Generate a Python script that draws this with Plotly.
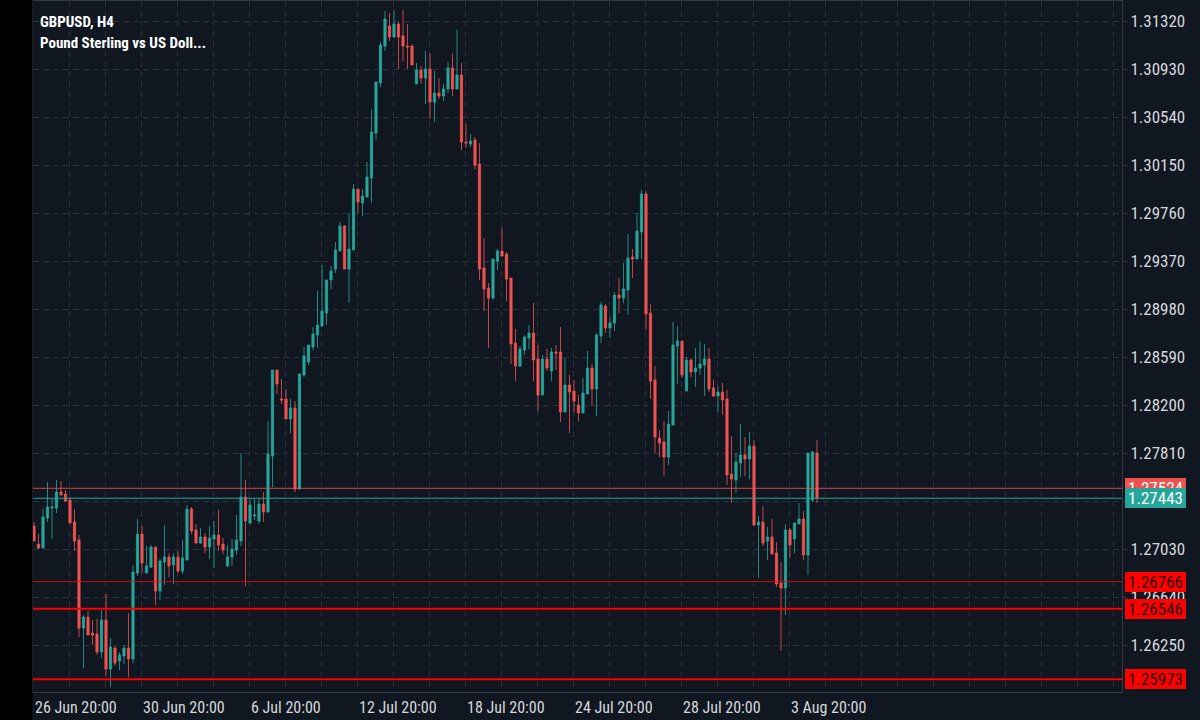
import plotly.graph_objects as go

# ---- data (GBPUSD H4) ----
OPEN = [1.27217,1.27071,1.27039,1.27282,1.27364,1.27364,1.27494,1.27477,1.27429,1.27250,
        1.27104,1.26388,1.26478,1.26348,1.26340,1.26194,1.26454,1.26055,1.26226,1.26120,
        1.26161,1.26226,1.26137,1.26836,1.27152,1.26836,1.26884,1.27047,1.26689,1.26925,
        1.26966,1.26901,1.26966,1.26852,1.26941,1.27356,1.27185,1.27079,1.27128,1.27047,
        1.27112,1.27144,1.27071,1.26893,1.26966,1.27022,1.27096,1.27453,1.27242,1.27299,
        1.27258,1.27396,1.27331,1.27786,1.28485,1.28250,1.28250,1.28087,1.28176,1.27518,
        1.28444,1.28550,1.28672,1.28769,1.28842,1.28948,1.29216,1.29305,1.29452,1.29655,
        1.29305,1.29460,1.29955,1.29842,1.29890,1.30045,1.30410,1.30817,1.31117,1.31280,
        1.31190,1.31296,1.31199,1.31117,1.31117,1.30809,1.30922,1.30857,1.30930,1.30662,
        1.30735,1.30711,1.30768,1.30939,1.30768,1.30882,1.30337,1.30321,1.30354,1.30159,
        1.29314,1.29151,1.29070,1.29370,1.29452,1.29427,1.29232,1.28704,1.28517,1.28647,
        1.28745,1.28785,1.28574,1.28282,1.28574,1.28477,1.28631,1.28631,1.28144,1.28363,
        1.28314,1.28200,1.28135,1.28290,1.28501,1.28331,1.28761,1.29005,1.28826,1.28867,
        1.29094,1.29070,1.29135,1.29403,1.29387,1.29606,1.29915,1.28948,1.28404,1.27932,
        1.27900,1.27778,1.28038,1.28680,1.28720,1.28314,1.28566,1.28469,1.28501,1.28525,
        1.28574,1.28339,1.28274,1.28306,1.28250,1.27640,1.27591,1.27729,1.27794,1.27762,
        1.27867,1.27225,1.27250,1.27096,1.27128,1.26998,1.26754,1.26714,1.27185,1.27112,
        1.27234,1.27274,1.26982,1.27429,1.27810]
HIGH = [1.27250,1.27152,1.27356,1.27575,1.27437,1.27591,1.27583,1.27510,1.27453,1.27356,
        1.27144,1.26494,1.26527,1.26454,1.26462,1.26535,1.26665,1.26307,1.26242,1.26194,
        1.26251,1.26511,1.26901,1.27274,1.27217,1.27055,1.27063,1.27047,1.26950,1.27225,
        1.26998,1.26998,1.27014,1.27104,1.27388,1.27372,1.27234,1.27201,1.27161,1.27217,
        1.27258,1.27347,1.27120,1.27063,1.27112,1.27307,1.27810,1.27591,1.27437,1.27437,
        1.27437,1.27494,1.28071,1.28485,1.28485,1.28412,1.28331,1.28250,1.28233,1.28461,
        1.28672,1.28688,1.28834,1.29127,1.29338,1.29216,1.29330,1.29525,1.29687,1.29663,
        1.29760,1.29996,1.29955,1.29955,1.30175,1.30605,1.30825,1.31150,1.31402,1.31385,
        1.31410,1.31312,1.31410,1.31296,1.31134,1.30979,1.30955,1.31077,1.31060,1.30914,
        1.30857,1.30809,1.30987,1.31060,1.31247,1.30979,1.30484,1.30402,1.30378,1.30329,
        1.29557,1.29192,1.29387,1.29468,1.29639,1.29443,1.29232,1.28818,1.28680,1.28769,
        1.28850,1.29029,1.28688,1.28607,1.28655,1.28664,1.28688,1.28834,1.28582,1.28444,
        1.28404,1.28282,1.28420,1.28639,1.28534,1.28785,1.29037,1.29021,1.28915,1.29119,
        1.29232,1.29354,1.29590,1.29468,1.29760,1.29947,1.29939,1.29021,1.28517,1.27997,
        1.28070,1.28152,1.28875,1.28842,1.28720,1.28590,1.28582,1.28664,1.28720,1.28696,
        1.28664,1.28404,1.28355,1.28379,1.28322,1.27949,1.27810,1.28046,1.27940,1.27981,
        1.27916,1.27299,1.27380,1.27209,1.27274,1.27087,1.26925,1.27234,1.27201,1.27242,
        1.27404,1.27339,1.27810,1.27827,1.27916]
LOW = [1.27096,1.27031,1.27039,1.27250,1.27112,1.27323,1.27469,1.27413,1.27242,1.27014,
       1.26315,1.26063,1.26332,1.26251,1.26169,1.26145,1.25998,1.25909,1.26080,1.26047,
       1.26096,1.25990,1.26104,1.26811,1.26836,1.26836,1.26876,1.26575,1.26616,1.26738,
       1.26803,1.26746,1.26836,1.26827,1.26941,1.27152,1.27079,1.27071,1.26998,1.26950,
       1.26876,1.27014,1.26990,1.26884,1.26893,1.26982,1.27055,1.26730,1.27234,1.27266,
       1.27234,1.27250,1.27331,1.27534,1.28290,1.28209,1.28087,1.27973,1.27494,1.27518,
       1.28428,1.28525,1.28647,1.28664,1.28842,1.28850,1.29143,1.29273,1.29452,1.29305,
       1.29029,1.29460,1.29760,1.29736,1.29890,1.29842,1.30354,1.30784,1.31077,1.31158,
       1.31182,1.30930,1.30995,1.30930,1.30963,1.30809,1.30809,1.30646,1.30524,1.30500,
       1.30687,1.30670,1.30735,1.30711,1.30768,1.30272,1.30289,1.30297,1.30118,1.29216,
       1.28964,1.28664,1.29054,1.29297,1.29411,1.29045,1.28534,1.28395,1.28509,1.28607,
       1.28655,1.28395,1.28152,1.28282,1.28477,1.28395,1.28485,1.28062,1.28144,1.27973,
       1.28144,1.28070,1.28135,1.28290,1.28192,1.28111,1.28704,1.28785,1.28745,1.28802,
       1.28948,1.29029,1.28932,1.29232,1.29387,1.29387,1.28810,1.28250,1.27810,1.27778,
       1.27624,1.27713,1.28038,1.28371,1.28420,1.28314,1.28428,1.28347,1.28444,1.28274,
       1.28306,1.28265,1.28144,1.28119,1.27551,1.27404,1.27486,1.27616,1.27624,1.27599,
       1.27225,1.26795,1.27055,1.26941,1.26990,1.26722,1.26202,1.26494,1.26958,1.26998,
       1.27234,1.26941,1.26819,1.27413,1.27404]
CLOSE = [1.27096,1.27039,1.27290,1.27372,1.27372,1.27494,1.27469,1.27421,1.27242,1.27096,
         1.26388,1.26478,1.26332,1.26332,1.26194,1.26454,1.26055,1.26234,1.26104,1.26169,
         1.26226,1.26137,1.26844,1.27152,1.26917,1.26893,1.27047,1.26689,1.26933,1.26966,
         1.26893,1.26966,1.26852,1.26958,1.27356,1.27177,1.27079,1.27128,1.27047,1.27120,
         1.27144,1.27063,1.27022,1.26966,1.27030,1.27104,1.27453,1.27258,1.27388,1.27307,
         1.27396,1.27331,1.27803,1.28485,1.28371,1.28241,1.28087,1.28176,1.27518,1.28452,
         1.28599,1.28688,1.28777,1.28850,1.28964,1.29216,1.29289,1.29460,1.29655,1.29305,
         1.29468,1.29955,1.29850,1.29898,1.30053,1.30419,1.30825,1.31125,1.31337,1.31190,
         1.31296,1.31190,1.31117,1.31109,1.30963,1.30922,1.30857,1.30930,1.30662,1.30735,
         1.30711,1.30768,1.30939,1.30768,1.30882,1.30337,1.30329,1.30345,1.30150,1.29305,
         1.29143,1.29070,1.29387,1.29452,1.29411,1.29224,1.28696,1.28517,1.28655,1.28753,
         1.28785,1.28566,1.28282,1.28574,1.28501,1.28631,1.28623,1.28144,1.28363,1.28306,
         1.28233,1.28135,1.28298,1.28501,1.28331,1.28769,1.29013,1.28826,1.28867,1.29094,
         1.29070,1.29143,1.29395,1.29387,1.29614,1.29915,1.28940,1.28395,1.27940,1.27892,
         1.27778,1.28046,1.28688,1.28720,1.28444,1.28566,1.28469,1.28501,1.28534,1.28574,
         1.28331,1.28274,1.28306,1.28241,1.27632,1.27599,1.27737,1.27794,1.27762,1.27867,
         1.27225,1.27250,1.27079,1.27128,1.26990,1.26746,1.26714,1.27185,1.27063,1.27242,
         1.27274,1.26982,1.27810,1.27819,1.27443]

XTICK_POS = [0, 24, 48, 72, 96, 120, 144, 168]
XTICK_LABELS = ["26 Jun 20:00", "30 Jun 20:00", "6 Jul 20:00", "12 Jul 20:00",
                "18 Jul 20:00", "24 Jul 20:00", "28 Jul 20:00", "3 Aug 20:00"]
YTICKS = [1.26250, 1.26640, 1.27030, 1.27420, 1.27810, 1.28200, 1.28590, 1.28980,
          1.29370, 1.29760, 1.30150, 1.30540, 1.30930, 1.31320]

BID = 1.27443
ASK = 1.27524
LEVELS = [1.26766, 1.26546, 1.25973]
LEVEL_WIDTHS = [1, 2, 2]

TITLE = "GBPUSD, H4"
SUBTITLE = "Pound Sterling vs US Doll..."

# ---- style ----
BG = "#111720"
GRID = "#2a303b"
BORDER = "#363b46"
TXT = "#d6d8de"
UP = "#26a69a"
DN = "#ef5350"
FONT = "Roboto Condensed, Liberation Sans Narrow, Arial Narrow, DejaVu Sans Condensed, Roboto, sans-serif"

W, H = 1200, 720
ML, MR, MT, MB = 33, 78, 1, 28
PW = W - ML - MR
PH = H - MT - MB

idx = list(range(len(OPEN)))

fig = go.Figure(go.Candlestick(
    x=idx, open=OPEN, high=HIGH, low=LOW, close=CLOSE,
    increasing=dict(line=dict(color="rgba(38,166,154,0.8)", width=1), fillcolor=UP),
    decreasing=dict(line=dict(color="rgba(239,83,80,0.8)", width=1), fillcolor=DN),
    whiskerwidth=0, showlegend=False, hoverinfo="skip",
))

shapes = []
# left black strip
shapes.append(dict(type="rect", xref="paper", yref="paper",
                   x0=-ML / PW - 0.01, x1=-0.5 / PW, y0=-MB / PH - 0.01, y1=1 + MT / PH + 0.01,
                   fillcolor="#000000", line=dict(width=0), layer="above"))
# price lines
shapes.append(dict(type="line", xref="paper", yref="y", x0=0, x1=1, y0=ASK, y1=ASK,
                   line=dict(color="rgba(239,83,80,0.85)", width=1)))
shapes.append(dict(type="line", xref="paper", yref="y", x0=0, x1=1, y0=BID, y1=BID,
                   line=dict(color=UP, width=1)))
for lv, lw in zip(LEVELS, LEVEL_WIDTHS):
    shapes.append(dict(type="line", xref="paper", yref="y", x0=0, x1=1, y0=lv, y1=lv,
                       line=dict(color="#ff0000" if lw > 1 else "rgba(255,0,0,0.8)", width=lw)))

annotations = []
# title
annotations.append(dict(text="<b>%s</b>" % TITLE, xref="paper", yref="paper", x=0, y=1,
                        xanchor="left", yanchor="middle", xshift=5, yshift=-22 + MT,
                        showarrow=False, font=dict(family=FONT, size=15, color="#ffffff")))
annotations.append(dict(text="<b>%s</b>" % SUBTITLE, xref="paper", yref="paper", x=0, y=1,
                        xanchor="left", yanchor="middle", xshift=5, yshift=-43 + MT,
                        showarrow=False, font=dict(family=FONT, size=15, color="#ffffff")))
# x labels
for p, t in zip(XTICK_POS, XTICK_LABELS):
    annotations.append(dict(text=t, xref="x", yref="paper", x=p, y=0, xanchor="left",
                            yanchor="middle", yshift=-15, xshift=-1, showarrow=False,
                            font=dict(family=FONT, size=16, color=TXT)))
# price boxes
def box(val, bg, fg):
    return dict(text="%.5f" % val, xref="paper", yref="y", x=1, y=val, xanchor="left",
                yanchor="middle", xshift=3, showarrow=False, bgcolor=bg, borderpad=1,
                borderwidth=0, width=59, height=18, align="center",
                font=dict(family=FONT, size=17, color=fg))
for lv in LEVELS:
    annotations.append(box(lv, "#ff0000", "#2a0000"))
annotations.append(box(ASK, DN, "#ffffff"))
annotations.append(box(BID, UP, "#ffffff"))

fig.update_layout(
    width=W, height=H,
    margin=dict(l=ML, r=MR, t=MT, b=MB, pad=0),
    paper_bgcolor=BG, plot_bgcolor=BG,
    shapes=shapes, annotations=annotations,
    hovermode=False,
    xaxis=dict(range=[-0.222, 241.78], rangeslider=dict(visible=False),
               showgrid=True, gridcolor=GRID, griddash="6px,4px", gridwidth=1,
               tick0=-0.22, dtick=8, showticklabels=False, ticks="",
               showline=True, mirror=True, linecolor=BORDER, linewidth=1, zeroline=False),
    yaxis=dict(range=[1.25869, 1.31483], side="right", tickvals=YTICKS,
               ticktext=["%.5f" % v for v in YTICKS],
               showgrid=True, gridcolor=GRID, griddash="6px,4px", gridwidth=1,
               ticks="outside", ticklen=4, tickcolor=BORDER,
               tickfont=dict(family=FONT, size=17, color=TXT),
               showline=True, mirror=True, linecolor=BORDER, linewidth=1, zeroline=False),
)

fig.write_html("out.html")
